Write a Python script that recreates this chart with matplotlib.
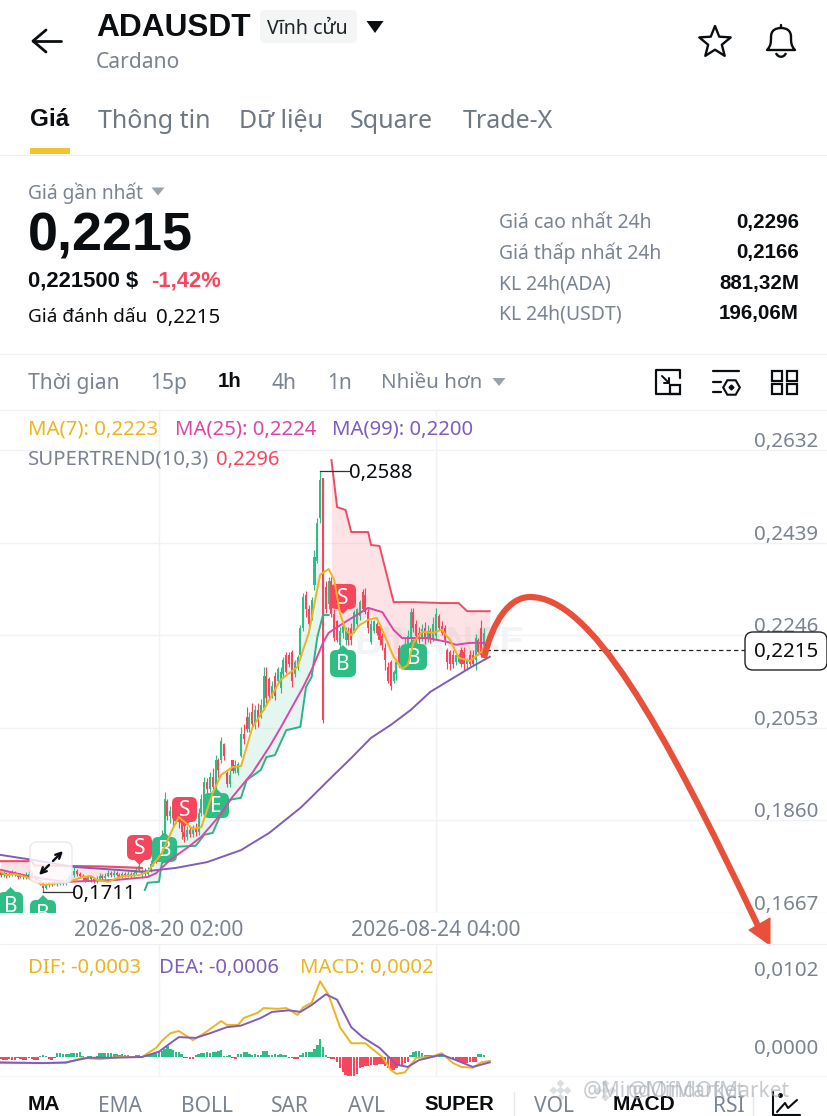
import matplotlib
matplotlib.use("Agg")
import matplotlib.pyplot as plt
import numpy as np
from matplotlib.patches import FancyBboxPatch, Polygon, PathPatch, Rectangle
from matplotlib.path import Path
from matplotlib.transforms import ScaledTranslation

plt.rcParams['font.family'] = ['Noto Sans', 'DejaVu Sans']

GREEN = '#2EBD85'; RED = '#F6465D'; GRAY = '#7A8490'; GRID = '#F1F2F3'
YEL = '#EDB41F'; MAG = '#DB46A8'; PUR = '#7F5DBB'; BLK = '#0B0E11'

# ---- data: prices in units of 0.0001, one candle per hour, hour 0 = 2026-08-20 02:00
FIRST_HOUR = -56
OPEN = [1752,1746,1750,1744,1748,1752,1747,1742,1746,1741,
        1745,1749,1744,1739,1735,1730,1720,1726,1730,1727,
        1732,1728,1733,1729,1735,1741,1746,1754,1748,1744,
        1740,1736,1741,1737,1733,1738,1744,1740,1745,1750,
        1746,1751,1747,1743,1748,1744,1749,1745,1750,1756,
        1746,1752,1748,1757,1770,1785,1780,1800,1835,1900,
        1870,1880,1865,1875,1858,1835,1825,1840,1832,1845,
        1835,1875,1905,1940,1925,1950,1930,1985,1985,2020,
        1958,1935,1985,1962,1958,1995,2040,2075,2050,2085,
        2060,2090,2075,2095,2160,2155,2120,2160,2150,2135,
        2165,2205,2205,2210,2165,2180,2205,2260,2330,2300,
        2285,2350,2400,2490,2574,2346,2310,
        2360,2290,2275,2225,2250,2235,2255,2260,2255,2270,
        2285,2335,2330,2295,2232,2255,2270,2265,2245,2220,
        2180,2190,2150,2165,2220,2215,2195,2215,2240,2295,
        2270,2250,2240,2262,2240,2255,2240,2245,2285,2265,
        2260,2215,2210,2205,2190,2190,2215,2210,2185,2205,
        2205,2195,2235,2260,2205]
CLOSE = [1746,1750,1744,1748,1752,1747,1742,1746,1741,1745,
         1749,1744,1739,1735,1730,1720,1726,1730,1727,1732,
         1728,1733,1729,1735,1741,1746,1754,1748,1744,1740,
         1736,1741,1737,1733,1738,1744,1740,1745,1750,1746,
         1751,1747,1743,1748,1744,1749,1745,1750,1756,1764,
         1752,1748,1757,1770,1785,1780,1800,1830,1905,1870,
         1880,1865,1875,1858,1835,1825,1840,1832,1845,1835,
         1875,1905,1940,1925,1950,1930,1985,1965,2025,1995,
         1935,1955,1962,1975,1978,2040,2030,2050,2075,2060,
         2090,2070,2100,2160,2115,2120,2140,2120,2175,2170,
         2195,2170,2185,2150,2190,2200,2260,2325,2300,2270,
         2320,2410,2480,2570,2070,2300,2360,
         2290,2240,2235,2255,2265,2260,2235,2235,2295,2300,
         2315,2300,2295,2260,2270,2275,2250,2235,2225,2195,
         2150,2140,2170,2190,2190,2185,2225,2245,2295,2260,
         2245,2238,2258,2240,2255,2240,2270,2290,2260,2250,
         2235,2190,2185,2185,2205,2205,2185,2185,2195,2185,
         2185,2240,2210,2205,2250]
HIGH = [1756,1754,1753,1752,1756,1755,1750,1750,1749,1752,
        1755,1752,1747,1743,1738,1734,1729,1733,1734,1736,
        1736,1738,1737,1740,1746,1752,1765,1758,1752,1748,
        1745,1746,1745,1741,1744,1750,1748,1750,1757,1755,
        1756,1755,1751,1753,1752,1754,1753,1756,1762,1772,
        1758,1760,1762,1778,1795,1800,1810,1840,1920,1905,
        1890,1885,1895,1885,1865,1850,1848,1848,1850,1855,
        1885,1916,1950,1948,1960,1970,1996,1990,2034,2021,
        1962,1965,1986,1985,1982,2055,2060,2096,2085,2105,
        2100,2105,2113,2180,2180,2159,2150,2170,2180,2180,
        2201,2211,2211,2215,2194,2205,2267,2334,2338,2309,
        2326,2424,2490,2588,2574,2360,2367,
        2367,2300,2278,2263,2275,2263,2263,2272,2299,2303,
        2320,2342,2345,2303,2278,2278,2274,2270,2251,2230,
        2190,2194,2174,2194,2226,2226,2240,2257,2303,2303,
        2278,2263,2270,2274,2268,2262,2284,2303,2290,2276,
        2268,2220,2215,2215,2212,2209,2222,2222,2198,2215,
        2215,2248,2240,2278,2262]
LOW = [1742,1743,1740,1741,1745,1744,1738,1739,1737,1738,
       1742,1740,1735,1731,1726,1711,1716,1722,1724,1725,
       1724,1725,1726,1726,1732,1738,1743,1744,1740,1736,
       1732,1733,1732,1729,1730,1735,1736,1737,1742,1742,
       1743,1744,1740,1740,1741,1741,1740,1742,1746,1752,
       1740,1744,1745,1752,1765,1772,1775,1795,1830,1860,
       1855,1850,1855,1845,1822,1815,1820,1826,1826,1828,
       1830,1870,1900,1915,1920,1922,1925,1950,1980,1985,
       1930,1930,1958,1958,1955,1992,2020,2044,2045,2055,
       2050,2055,2073,2090,2105,2111,2115,2111,2146,2126,
       2159,2167,2180,2138,2159,2174,2203,2255,2284,2263,
       2278,2340,2396,2480,2063,2292,2300,
       2284,2234,2232,2215,2240,2226,2226,2226,2250,2265,
       2278,2299,2290,2251,2228,2251,2246,2225,2215,2174,
       2146,2132,2146,2153,2180,2180,2190,2210,2230,2253,
       2232,2230,2234,2228,2232,2230,2234,2236,2257,2246,
       2226,2176,2174,2178,2184,2188,2180,2174,2174,2182,
       2184,2174,2205,2201,2201]

MA7_H = [-56,-54,-51,-47,-45,-41,-35,-32,-27,-24,-22,-18,-13,-7,-4,1,5,7,12,15,19,22,26,29,33,37,43,49,53,57,60,62,64,66,68,71,74,77,79,83,86,88,90,93,97,100,103,106,110,114,115]
MA7_V = [1753,1746,1748,1742,1736,1725,1730,1732,1742,1744,1736,1732,1744,1746,1753,1792,1844,1867,1842,1846,1917,1955,1971,1973,2053,2090,2153,2180,2251,2372,2384,2361,2292,2257,2246,2267,2278,2282,2257,2201,2176,2184,2230,2253,2251,2257,2236,2199,2192,2211,2223]
MA25_H = [-56,-45,-33,-15,-4,-1,4,10,15,21,26,33,39,43,51,54,58,60,66,74,79,83,86,95,102,105,110,115]
MA25_V = [1757,1742,1732,1736,1742,1750,1778,1803,1826,1867,1909,1959,2013,2053,2138,2174,2230,2251,2274,2303,2294,2257,2240,2240,2232,2226,2230,2230]
MA99_H = [-56,-45,-30,-15,-6,6,17,29,39,50,53,60,68,75,82,89,96,103,110,117]
MA99_V = [1788,1778,1763,1757,1753,1761,1773,1798,1834,1886,1903,1944,1990,2032,2059,2090,2128,2153,2178,2201]

ST_UP_H = [-5,-4,0,1,5,6,13,16,19,21,25,29,31,36,38,41,45,50,52,54,56,58,59,60]
ST_UP_V = [1715,1730,1732,1771,1780,1805,1807,1830,1834,1861,1903,1907,1944,1965,1992,1996,2048,2055,2138,2159,2242,2288,2288,2288]
ST_UP_TOP = [1730,1740,1780,1800,1860,1870,1850,1880,1925,1960,1970,1975,2020,2075,2100,2135,2170,2210,2280,2300,2400,2420,2288,2288]
ST_DN_H = [61,63,66,68,74,75,78,83,86,90,100,106,109,117]
ST_DN_V = [2611,2513,2507,2461,2461,2434,2432,2315,2315,2315,2313,2313,2296,2296]
ST_DN_LOW = [2285,2265,2250,2250,2290,2285,2270,2180,2175,2215,2240,2200,2195,2230]
ST_OLD_H = [-56,-45,-44,-20,-6]
ST_OLD_V = [1775,1775,1766,1764,1761]
ST_OLD_LOW = [1750,1742,1735,1742,1752]

PRICE_TICKS = [0.2632, 0.2439, 0.2246, 0.2053, 0.1860, 0.1667]
PRICE_LABELS = ['0,2632', '0,2439', '0,2246', '0,2053', '0,1860', '0,1667']
TIME_TICKS = [0, 98]
TIME_LABELS = ['2026-08-20 02:00', '2026-08-24 04:00']
LAST_PRICE = 0.2215
HIGH_MARK = 0.2588
LOW_MARK = 0.1711

# MACD panel, units of 0.0001
DIF_H = [-56,-41,-33,-27,-21,-14,-6,-1,1,4,7,12,16,19,22,24,28,30,35,37,42,45,49,51,54,57,60,64,68,73,79,82,84,87,91,96,100,104,107,111,114,117]
DIF_V = [-8,-8,-8,-1,-3,0,0,12,21,31,34,22,31,39,47,42,42,51,58,64,63,64,55,65,71,99,81,39,18,18,0,-17,-22,-20,-1,0,5,-8,-13,-14,-7,-5]
DEA_H = [-56,-41,-33,-25,-17,-6,0,4,7,13,18,24,29,36,40,46,50,54,59,63,68,72,78,84,88,92,100,105,111,117]
DEA_V = [-7,-8,-7,-1,-1,0,7,18,26,25,31,39,41,51,59,61,59,68,82,75,39,26,12,-10,-13,-4,3,-4,-13,-7]
HIST = [-3,-4,-4,-3,-4,-4,-1,-3,-4,-4,-1,-3,-4,-4,
        1,2,1,-3,-4,-1,
        5,5,4,4,4,5,5,5,6,
        1,-1,1,1,-1,1,
        5,5,5,5,5,4,4,
        2,4,3,2,1,1,2,2,
        1,2,3,4,5,6,7,8,11,14,
        10,9,7,6,4,
        -1,-1,-2,-3,
        3,4,5,5,6,5,6,7,8,9,
        1,1,2,-1,-3,
        4,4,6,6,4,3,4,2,2,
        8,8,3,3,4,3,4,3,2,
        -1,-1,-2,-2,
        3,5,7,7,
        7,11,16,24,13,2,
        -1,-2,-3,-6,
        -14,-20,-24,-26,-26,-25,-22,
        -15,-13,-12,-12,-11,-10,-10,-9,-9,
        -12,-15,-17,-17,-14,-12,-10,-8,-6,
        3,6,8,8,5,
        2,2,2,2,2,1,
        2,1,-1,-1,-2,
        -4,-6,-7,-8,-8,-7,-6,-6,
        4,4,2]
MACD_TICKS = [0.0102, 0.0]
MACD_LABELS = ['0,0102', '0,0000']

SCALE = 1e-4
def P(a):
    return np.array(a, dtype=float) * SCALE

W, H = 828, 1116
fig = plt.figure(figsize=(W / 100, H / 100), dpi=100, facecolor='white')

def axes_px(top, bottom, z):
    return fig.add_axes([0, 1 - bottom / H, 1, (bottom - top) / H], zorder=z)

ui = fig.add_axes([0, 0, 1, 1], zorder=5)
ui.set_xlim(0, W); ui.set_ylim(H, 0); ui.axis('off'); ui.patch.set_alpha(0)

XLIM = ((0 - 159) / 2.827, (828 - 159) / 2.827)
PRICE_PER_PX = (0.2632 - 0.1667) / 463
DOWN2 = ScaledTranslation(0, -2 / 100, fig.dpi_scale_trans)

# ---- price panel
ax = axes_px(411, 913, 2)
ax.set_xlim(*XLIM)
ax.set_ylim(0.1667, 0.2632 + 39 * PRICE_PER_PX)
for s in ax.spines.values():
    s.set_visible(False)
ax.set_axisbelow(True)
ax.grid(True, color=GRID, lw=1.0)
ax.set_yticks(PRICE_TICKS)
ax.set_yticklabels(PRICE_LABELS, va='bottom', color=GRAY, fontsize=14.8)
ax.yaxis.tick_right()
ax.set_xticks(TIME_TICKS)
ax.set_xticklabels(TIME_LABELS, color=GRAY, fontsize=15.2)
ax.tick_params(axis='y', length=0, pad=-53.6)
ax.tick_params(axis='x', length=0, pad=5)
for lbl in ax.get_yticklabels():
    lbl.set_transform(lbl.get_transform() + DOWN2)

ax.text(440, 644, 'BINANCE', transform=ui.transData, color='#F3F4F5', fontsize=27, fontweight='bold',
        family='Liberation Sans', ha='center', va='center', zorder=0.5)

hours = FIRST_HOUR + np.arange(len(OPEN))
o, c, hi, lo = P(OPEN), P(CLOSE), P(HIGH), P(LOW)
cols = [GREEN if cc >= oo else RED for oo, cc in zip(o, c)]
ax.vlines(hours, lo, hi, colors=cols, lw=0.85, zorder=2)
ax.bar(hours, np.abs(c - o), bottom=np.minimum(o, c), width=0.72, color=cols, lw=0, zorder=2.1)

ax.fill_between(ST_UP_H, P(ST_UP_V), P(ST_UP_TOP), color=GREEN, alpha=0.12, lw=0, zorder=1.5)
ax.fill_between(ST_DN_H, P(ST_DN_LOW), P(ST_DN_V), color=RED, alpha=0.15, lw=0, zorder=1.5)
ax.fill_between(ST_OLD_H, P(ST_OLD_LOW), P(ST_OLD_V), color=RED, alpha=0.15, lw=0, zorder=1.5)

def badge(x0, x1, y0, y1, tip, label, color):
    xm = (x0 + x1) / 2
    ax.add_patch(FancyBboxPatch((x0 + 5, y0 + 5), x1 - x0 - 10, y1 - y0 - 10,
                                boxstyle='round,pad=5,rounding_size=6', fc=color, ec='none',
                                transform=ui.transData, zorder=3))
    base = y1 - 1 if tip > y1 else y0 + 1
    ax.add_patch(Polygon([(xm - 6, base), (xm + 6, base), (xm, tip)], fc=color, ec='none',
                         transform=ui.transData, zorder=3))
    ax.text(xm, (y0 + y1) / 2 + 1.5, label, color='white', fontsize=15, ha='center', va='center',
            transform=ui.transData, zorder=3.1)

badge(127, 152, 835, 860, 865, 'S', RED)
badge(152, 177, 837, 862, 832, 'B', GREEN)
badge(172, 197, 797, 822, 827, 'S', RED)
badge(203, 229, 793, 818, 788, 'E', GREEN)
badge(330, 356, 584, 609, 614, 'S', RED)
badge(330, 356, 650, 677, 645, 'B', GREEN)
badge(400, 427, 644, 670, 639, 'B', GREEN)
badge(-2, 23, 892, 917, 887, 'B', GREEN)
badge(30, 56, 900, 925, 895, 'B', GREEN)

ax.plot(ST_OLD_H, P(ST_OLD_V), color='#EE4C64', lw=1.5, zorder=3.5)
ax.plot(ST_DN_H, P(ST_DN_V), color='#EE4C64', lw=1.4, zorder=3.5)
ax.plot(ST_UP_H, P(ST_UP_V), color='#2BB582', lw=1.4, zorder=3.5)
ax.plot(MA99_H, P(MA99_V), color=PUR, lw=1.4, zorder=4)
ax.plot(MA25_H, P(MA25_V), color=MAG, lw=1.4, zorder=4.1)
ax.plot(MA7_H, P(MA7_V), color=YEL, lw=1.4, zorder=4.2)

px2h = lambda x: (x - 159) / 2.827
ax.plot([px2h(486), px2h(745)], [LAST_PRICE, LAST_PRICE], color='#222222', lw=0.9, ls=(0, (3.5, 2.5)), zorder=4.5)
ax.plot([px2h(320), px2h(349)], [HIGH_MARK, HIGH_MARK], color='#333333', lw=0.9, zorder=4.5)
ax.annotate('0,2588', (px2h(349), HIGH_MARK), xytext=(0, -1.5), textcoords='offset points',
            fontsize=14.6, color=BLK, va='center', ha='left', zorder=5)
ax.plot([px2h(43), px2h(72)], [LOW_MARK, LOW_MARK], color='#333333', lw=0.9, zorder=4.5)
ax.annotate('0,1711', (px2h(72), LOW_MARK), xytext=(0, -1.5), textcoords='offset points',
            fontsize=14.6, color=BLK, va='center', ha='left', zorder=5)

# ---- MACD panel
RATE = 0.0102 / 78
mx = axes_px(944, 1076, 2)
mx.set_xlim(*XLIM)
mx.set_ylim(-19 * RATE, 113 * RATE)
for s in mx.spines.values():
    s.set_visible(False)
mx.set_axisbelow(True)
mx.grid(True, axis='x', color=GRID, lw=1.0)
mx.set_xticks(TIME_TICKS); mx.set_xticklabels([])
mx.set_yticks(MACD_TICKS)
mx.set_yticklabels(MACD_LABELS, va='bottom', color=GRAY, fontsize=14.8)
mx.yaxis.tick_right()
mx.tick_params(axis='both', length=0)
mx.tick_params(axis='y', pad=-53.6)
for lbl in mx.get_yticklabels():
    lbl.set_transform(lbl.get_transform() + DOWN2)
hist = P(HIST)
mx.bar(FIRST_HOUR + np.arange(len(HIST)), hist, width=0.85,
       color=[GREEN if v >= 0 else RED for v in hist], lw=0, zorder=2)
mx.plot(DIF_H, P(DIF_V), color=YEL, lw=1.4, zorder=3)
mx.plot(DEA_H, P(DEA_V), color=PUR, lw=1.4, zorder=3.1)

# ---- interface overlay
def T(x, y, s, px, color=BLK, weight='normal', ha='left'):
    if weight == 'bold':
        ui.text(x, y + 0.5, s, fontsize=px * 0.72, color=color, fontweight='bold', family='Liberation Sans', ha=ha, va='center')
    else:
        ui.text(x, y + 2.5, s, fontsize=px * 0.72, color=color, ha=ha, va='center')

def line(xs, ys, color=BLK, lw=1.6, **kw):
    ui.plot(xs, ys, color=color, lw=lw, solid_capstyle=kw.pop('cap', 'round'), solid_joinstyle='round', **kw)

def tri(cx, cy, w, h, color):
    ui.add_patch(Polygon([(cx - w / 2, cy - h / 2), (cx + w / 2, cy - h / 2), (cx, cy + h / 2)], fc=color, ec='none'))

for yy in (155, 354, 410, 944):
    line([0, W], [yy, yy], color='#EFF0F1', lw=0.9, cap='butt')
line([0, W], [1076, 1076], color='#F4F5F6', lw=0.8, cap='butt')

line([33, 61], [41, 41], lw=2.0)
line([46, 33, 46], [30, 41, 52], lw=2.0)
T(96, 27, 'ADAUSDT', 31.7, weight='bold')
ui.add_patch(FancyBboxPatch((265, 15), 87, 23, boxstyle='round,pad=5,rounding_size=5', fc='#F4F5F5', ec='none'))
T(267, 26, 'Vĩnh cửu', 19.5, color='#1E2329')
tri(375, 27, 17, 12, BLK)
T(96, 60, 'Cardano', 21, color=GRAY)

ang = np.pi / 2 + np.arange(10) * np.pi / 5
rad = np.where(np.arange(10) % 2 == 0, 16.5, 7.2)
ui.add_patch(Polygon(np.c_[715 + rad * np.cos(ang), 42.5 - rad * np.sin(ang)], fc='none', ec=BLK, lw=1.7, joinstyle='round'))
bell = Path([(767, 50), (771, 46), (771, 42), (771, 37), (771, 30), (776, 28), (781, 28), (786, 28), (791, 30), (791, 37),
             (791, 42), (791, 46), (795, 50), (767, 50)],
            [Path.MOVETO, Path.CURVE4, Path.CURVE4, Path.CURVE4, Path.CURVE4, Path.CURVE4, Path.CURVE4, Path.CURVE4,
             Path.CURVE4, Path.CURVE4, Path.CURVE4, Path.CURVE4, Path.CURVE4, Path.CLOSEPOLY])
ui.add_patch(PathPatch(bell, fc='none', ec=BLK, lw=1.7, joinstyle='round'))
line([781, 781], [25, 28], lw=1.7)
ui.add_patch(PathPatch(Path([(776, 53), (778, 58), (784, 58), (786, 53)], [Path.MOVETO, Path.CURVE4, Path.CURVE4, Path.CURVE4]),
                       fc='none', ec=BLK, lw=1.7))

T(30, 119, 'Giá', 24.2, weight='bold')
for xx, s in [(98, 'Thông tin'), (239, 'Dữ liệu'), (350, 'Square'), (463, 'Trade-X')]:
    T(xx, 118.5, s, 25, color='#6E7885')
ui.add_patch(Rectangle((30, 148), 40, 6, fc='#F0C52E', ec='none'))

T(28, 190.5, 'Giá gần nhất', 19.2, color=GRAY)
tri(158, 191.5, 13, 8, '#9AA2AB')
T(28, 236, '0,2215', 54, weight='bold')
T(28, 281, '0,221500 $', 22, weight='bold')
T(151, 281, '-1,42%', 22, color=RED, weight='bold')
T(28, 315, 'Giá đánh dấu', 19)
T(156, 315, '0,2215', 20.5)

for yy, lab, val in [(222, 'Giá cao nhất 24h', '0,2296'), (252, 'Giá thấp nhất 24h', '0,2166'),
                     (283, 'KL 24h(ADA)', '881,32M'), (313, 'KL 24h(USDT)', '196,06M')]:
    T(499, yy - 1, lab, 19.4, color=GRAY)
    T(799, yy, val, 20.5, ha='right', weight='bold')

for xx, s, col, w, sz in [(28, 'Thời gian', GRAY, 'normal', 21), (150, '15p', GRAY, 'normal', 21), (218, '1h', BLK, 'bold', 20.5),
                          (272, '4h', GRAY, 'normal', 21), (327, '1n', GRAY, 'normal', 21), (381, 'Nhiều hơn', GRAY, 'normal', 20.6)]:
    T(xx, 381, s, sz, color=col, weight=w)
tri(499, 382, 13, 8, '#9AA2AB')

# toolbar icons
line([680, 680, 656, 656, 680], [378, 370, 370, 394, 394], lw=1.6)
ui.add_patch(Rectangle((670, 385), 10, 9, fc='none', ec=BLK, lw=1.6))
line([662, 669], [376, 383], lw=1.4); line([664, 669, 669], [383, 383, 378], lw=1.4)
line([713, 739], [371, 371], lw=1.6); line([713, 721], [382, 382], lw=1.6); line([713, 721], [392, 392], lw=1.6)
ui.plot([731], [387], marker='H', ms=12, mfc='none', mec=BLK, mew=1.5)
ui.plot([731], [387], marker='D', ms=2.5, color=BLK)
for xx in (772, 787):
    for yy in (371, 384):
        ui.add_patch(Rectangle((xx, yy), 10, 10, fc='none', ec=BLK, lw=1.6))

T(28, 427, 'MA(7): 0,2223', 20.4, color=YEL)
T(175, 427, 'MA(25): 0,2224', 20.3, color=MAG)
T(332, 427, 'MA(99): 0,2200', 20.3, color=PUR)
T(28, 457, 'SUPERTREND(10,3)', 20.4, color=GRAY)
T(216, 457, '0,2296', 20.3, color=RED)

T(28, 966, 'DIF: -0,0003', 20.3, color=YEL)
T(159, 966, 'DEA: -0,0006', 20.3, color=PUR)
T(300, 966, 'MACD: 0,0002', 20.3, color=YEL)

# expand button
ui.add_patch(FancyBboxPatch((35, 847), 32, 31, boxstyle='round,pad=5,rounding_size=7', fc='white', ec='#E6E6E6', lw=1, alpha=0.82))
ui.annotate('', xy=(63, 851), xytext=(53, 861), arrowprops=dict(arrowstyle='->', lw=1.7, color=BLK, shrinkA=0, shrinkB=0))
ui.annotate('', xy=(39, 875), xytext=(49, 865), arrowprops=dict(arrowstyle='->', lw=1.7, color=BLK, shrinkA=0, shrinkB=0))

# current price tag
ui.add_patch(FancyBboxPatch((750, 637), 72, 28, boxstyle='round,pad=5,rounding_size=8', fc='white', ec='#222222', lw=1))
T(786, 650, '0,2215', 20.5, ha='center')

# hand-drawn red arrow
ARROW = '#E8503A'
curve = Path([(484, 658), (493, 620), (510, 597), (530, 597), (590, 597), (660, 720), (758, 926)],
             [Path.MOVETO] + [Path.CURVE4] * 6)
ui.add_patch(PathPatch(curve, fc='none', ec=ARROW, lw=4.4, capstyle='butt'))
ui.add_patch(Polygon([(770, 918), (749, 930), (770, 945)], fc=ARROW, ec=ARROW, lw=0.8))

# bottom bar
for xx, s, col, w, sz in [(28, 'MA', BLK, 'bold', 21), (98, 'EMA', GRAY, 'normal', 21), (181, 'BOLL', GRAY, 'normal', 21),
                          (271, 'SAR', GRAY, 'normal', 21), (348, 'AVL', GRAY, 'normal', 21), (424, 'SUPER', BLK, 'bold', 20.3),
                          (534, 'VOL', GRAY, 'normal', 21), (613, 'MACD', BLK, 'bold', 21), (713, 'RSI', GRAY, 'normal', 21)]:
    T(xx, 1104, s, sz, color=col, weight=w)
line([514, 514], [1092, 1116], color='#E6E8EA', lw=1)
line([753, 753], [1092, 1116], color='#E6E8EA', lw=1)
line([773, 773, 800], [1092, 1115, 1115], lw=1.5)
line([777, 785, 788, 797], [1112, 1103, 1108, 1100], lw=1.5)
ui.plot([780], [1095], 'o', ms=2.5, color=BLK)

# repost watermark
for cx in (560, 605):
    for dx, dy in [(0, 0), (-7, 0), (7, 0), (0, -7), (0, 7)]:
        ui.plot([cx + dx], [1090 + dy], marker='D', ms=3.6, mfc='#D4D7DB', mec='none', alpha=0.8)
ui.text(583, 1091, '@MindOfMarket', fontsize=15, color='#A8AEB6', alpha=0.65, va='center')
ui.text(628, 1091, '@MindOfMarket', fontsize=15, color='#A8AEB6', alpha=0.65, va='center')

assert len(OPEN) == len(CLOSE) == len(HIGH) == len(LOW) == len(HIST) == 172
fig.savefig('out.png', dpi=100, facecolor='white')
